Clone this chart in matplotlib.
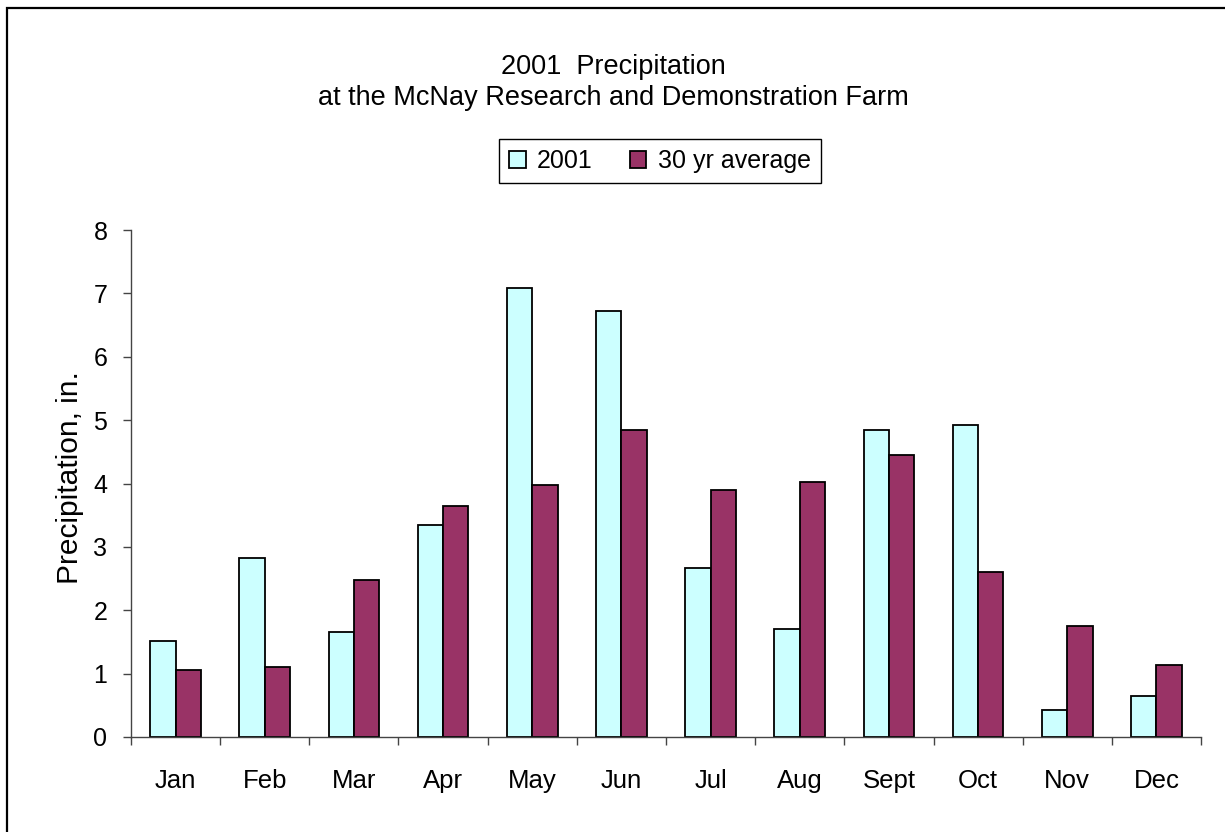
import matplotlib
matplotlib.use('Agg')
import matplotlib.pyplot as plt
from matplotlib.patches import Rectangle
import numpy as np

months = ['Jan', 'Feb', 'Mar', 'Apr', 'May', 'Jun', 'Jul', 'Aug', 'Sept', 'Oct', 'Nov', 'Dec']
precip_2001 = [1.52, 2.82, 1.66, 3.35, 7.09, 6.72, 2.66, 1.71, 4.84, 4.93, 0.42, 0.65]
precip_avg = [1.06, 1.11, 2.47, 3.65, 3.97, 4.85, 3.89, 4.02, 4.45, 2.61, 1.75, 1.14]

plt.rcParams['font.family'] = ['Liberation Sans', 'DejaVu Sans']

W, H = 1225, 832
fig = plt.figure(figsize=(W / 100, H / 100), dpi=100)

# outer chart border (only top/left visible in the reference)
fig.patches.append(Rectangle((7 / W, -0.1), 1.2, 1 - 8 / H + 0.1, transform=fig.transFigure,
                             fill=False, edgecolor='black', linewidth=1.6))

ax = fig.add_axes([131 / W, 1 - 737 / H, (1201 - 131) / W, 507 / H])

x = np.arange(len(months))
w = 0.285
ax.bar(x - w / 2, precip_2001, w, color='#CCFFFF', edgecolor='black', linewidth=1.3, label='2001')
ax.bar(x + w / 2, precip_avg, w, color='#993366', edgecolor='black', linewidth=1.3, label='30 yr average')

ax.set_xlim(-0.5, len(months) - 0.5)
ax.set_ylim(0, 8)
ax.set_yticks(range(0, 9))
ax.set_xticks(x)
ax.set_xticklabels(months)
ax.set_xticks(np.arange(-0.5, len(months)), minor=True)

for s in ['top', 'right']:
    ax.spines[s].set_visible(False)
for s in ['left', 'bottom']:
    ax.spines[s].set_color('#444444')
    ax.spines[s].set_linewidth(1.0)

ax.tick_params(axis='x', which='major', length=0, pad=23, labelsize=18.5)
ax.tick_params(axis='x', which='minor', length=6, width=1.0, color='#444444', direction='out')
ax.tick_params(axis='y', length=6, width=1.0, color='#444444', direction='out', pad=11, labelsize=18)

fig.text(70 / W, 1 - 478 / H, 'Precipitation, in.', rotation=90, ha='center', va='center', fontsize=21.5)

fig.text(613 / W, 1 - 74 / H, '2001  Precipitation', ha='center', va='baseline', fontsize=19.5)
fig.text(613 / W, 1 - 105 / H, 'at the McNay Research and Demonstration Farm', ha='center', va='baseline', fontsize=19.5)

leg = fig.legend(loc='center', bbox_to_anchor=(660 / W, 1 - 161 / H), ncol=2, fontsize=18,
                 frameon=True, fancybox=False, edgecolor='black', framealpha=1,
                 handlelength=0.65, handleheight=0.65, handletextpad=0.45, columnspacing=1.5,
                 borderpad=0.4, borderaxespad=0)
leg.get_frame().set_linewidth(1.0)

fig.savefig('out.png', dpi=100)
